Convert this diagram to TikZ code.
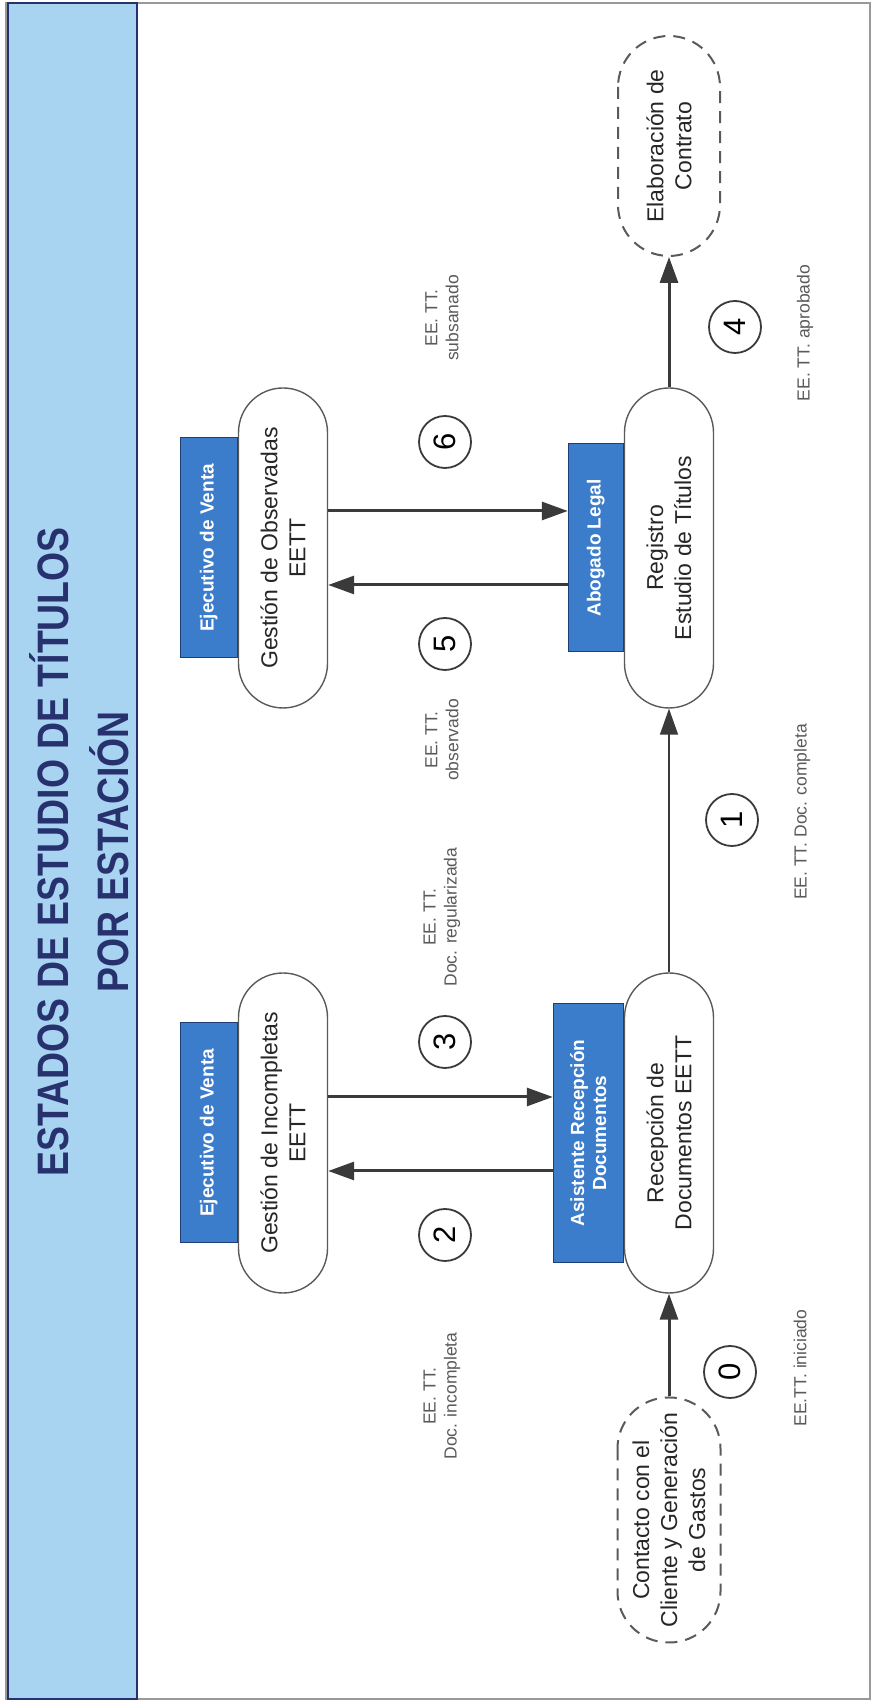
\documentclass[tikz,border=0pt]{standalone}
\usepackage{fontspec}
\setmainfont{Liberation Sans}
\usetikzlibrary{positioning,arrows.meta}

\definecolor{banda}{HTML}{A8D3F1}
\definecolor{marino}{HTML}{27316E}
\definecolor{rolazul}{HTML}{3B7CCB}
\definecolor{rolborde}{HTML}{1F3E78}
\definecolor{trazo}{HTML}{3A3A3A}
\definecolor{gris}{HTML}{5A5A5A}

\begin{document}
\begin{tikzpicture}[x=1pt,y=1pt,rotate=90,transform shape,
  titulo/.style={text=marino,font=\bfseries\fontsize{44}{60}\selectfont},
  estado/.style={draw=gris,line width=1.4pt,fill=white,rounded corners=44.5pt,
    minimum width=320pt,minimum height=89pt,align=center,text=black!85,
    font=\fontsize{23}{28}\selectfont},
  externo/.style={draw=gris,line width=2pt,dash pattern=on 12pt off 8pt,
    rounded corners=51pt,minimum height=102pt,align=center,text=black!85,
    font=\fontsize{23}{28}\selectfont},
  rol/.style={fill=rolazul,draw=rolborde,line width=1pt,text=white,align=center,
    minimum height=57pt,inner sep=0pt,font=\bfseries\fontsize{19}{22}\selectfont},
  flecha/.style={draw=trazo,line width=3pt,-{Triangle[length=26pt,width=18pt]}},
  num/.style={circle,draw=trazo,line width=1.8pt,minimum size=52pt,inner sep=0pt,
    font=\fontsize{31}{31}\selectfont},
  etiqueta/.style={text=gris,align=center,font=\fontsize{17.5}{21}\selectfont}]
  \useasboundingbox (0,0) rectangle (1704,-873);

  % marco y franja del titulo
  \draw[black!40,line width=1.5pt] (5,-6) rectangle (1701,-870);
  \filldraw[fill=banda,draw=marino,line width=2.5pt] (5,-8) rectangle (1701,-137);
  \node[titulo,anchor=base] (tit1) at (852,-68)
    {\scalebox{0.85}[1]{ESTADOS DE ESTUDIO DE TÍTULOS}};
  \node[titulo,anchor=base] (tit2) at (852,-128)
    {\scalebox{0.85}[1]{POR ESTACIÓN}};

  % estaciones
  \node[externo,minimum width=245pt,minimum height=103pt] (cont) at (184,-669)
    {Contacto con el\\Cliente y Generación\\de Gastos};
  \node[estado] (rec) at (571,-669) {Recepción de\\Documentos EETT};
  \node[estado] (inc) at (571,-283) {Gestión de Incompletas\\EETT};
  \node[estado] (reg) at (1156,-669) {Registro\\Estudio de Títulos};
  \node[estado] (obs) at (1156,-283) {Gestión de Observadas\\EETT};
  \node[externo,minimum width=220pt] (elab) at (1558,-669) {Elaboración de\\Contrato};

  % responsables
  \node[rol,minimum width=220pt,above=0pt of inc] (eje1) {Ejecutivo de Venta};
  \node[rol,minimum width=220pt,above=0pt of obs] (eje2) {Ejecutivo de Venta};
  \node[rol,minimum width=259pt,minimum height=70pt,above=0pt of rec] (asis)
    {Asistente Recepción\\Documentos};
  \node[rol,minimum width=208pt,minimum height=55pt,above=0pt of reg] (abo) {Abogado Legal};

  % transiciones
  \draw[flecha] (cont) -- (rec);
  \draw[flecha,line width=1.5pt] (rec) -- (reg);
  \draw[flecha] (reg) -- (elab);
  \draw[flecha] ([xshift=-38pt]asis.north) -- ([xshift=-38pt]inc.south);
  \draw[flecha] ([xshift=36pt]inc.south) -- ([xshift=36pt]asis.north);
  \draw[flecha] ([xshift=-37pt]abo.north) -- ([xshift=-37pt]obs.south);
  \draw[flecha] ([xshift=37pt]obs.south) -- ([xshift=37pt]abo.north);

  \node[num] (n0) at (332,-730) {0};
  \node[num] (n1) at (884,-732) {1};
  \node[num] (n2) at (469,-445) {2};
  \node[num] (n3) at (662,-445) {3};
  \node[num] (n4) at (1377,-735) {4};
  \node[num] (n5) at (1060,-445) {5};
  \node[num] (n6) at (1262,-445) {6};

  % estados
  \node[etiqueta] (e0) at (336,-800) {EE.TT. iniciado};
  \node[etiqueta] (e1) at (892,-802) {EE. TT. Doc. completa};
  \node[etiqueta] (e4) at (1371,-805) {EE. TT. aprobado};
  \node[etiqueta] (e2) at (308,-442) {EE. TT.\\Doc. incompleta};
  \node[etiqueta] (e3) at (787,-442) {EE. TT.\\Doc. regularizada};
  \node[etiqueta] (e5) at (964,-442) {EE. TT.\\observado};
  \node[etiqueta] (e6) at (1386,-442) {EE. TT.\\subsanado};
\end{tikzpicture}
\end{document}
